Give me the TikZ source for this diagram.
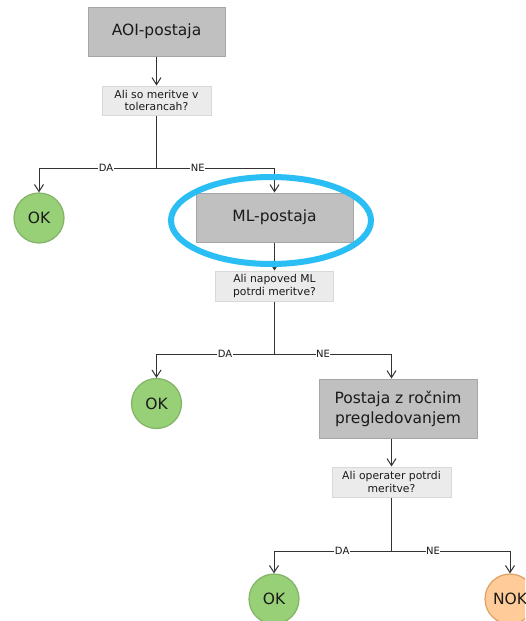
\documentclass[tikz,border=0pt]{standalone}
\usepackage{fontspec}
\setmainfont{DejaVu Sans}
\usetikzlibrary{arrows.meta,calc}
\definecolor{boxfill}{HTML}{C0C0C0}
\definecolor{boxline}{HTML}{A6A6A6}
\definecolor{qfill}{HTML}{EBEBEB}
\definecolor{qline}{HTML}{D9D9D9}
\definecolor{okfill}{HTML}{97D077}
\definecolor{okline}{HTML}{82B366}
\definecolor{nokfill}{HTML}{FFCC99}
\definecolor{nokline}{HTML}{E0A060}
\definecolor{hilite}{HTML}{2ABEF5}
\definecolor{linec}{HTML}{333333}
\definecolor{txt}{HTML}{1A1A1A}
\tikzset{
  stationbox/.style={draw=boxline, fill=boxfill, line width=1pt, inner sep=0pt, align=center, text=txt, font=\fontsize{15.5}{20}\selectfont},
  qbox/.style={draw=qline, fill=qfill, line width=1pt, inner sep=0pt, align=center, text=txt, font=\fontsize{10.8}{12.7}\selectfont},
  okc/.style={circle, draw=okline, fill=okfill, line width=1.2pt, minimum size=50pt, inner sep=0pt, text=txt, font=\fontsize{15.5}{18}\selectfont},
  nokc/.style={circle, draw=nokline, fill=nokfill, line width=1.2pt, minimum size=50pt, inner sep=0pt, text=txt, font=\fontsize{15.5}{18}\selectfont},
  conn/.style={draw=linec, line width=1pt},
  arr/.style={conn, -{Straight Barb[length=7pt,width=9pt]}},
  lbl/.style={fill=white, inner sep=0.5pt, text=txt, font=\fontsize{10}{12}\selectfont}
}
\begin{document}
\begin{tikzpicture}[x=1pt,y=-1pt]
\clip (0,0) rectangle (525,621);
\fill[white] (0,0) rectangle (525,621);

\node[stationbox, minimum width=137pt, minimum height=49pt] (aoi) at (156.5,31.5) {AOI-postaja};
\node[qbox, minimum width=109pt, minimum height=29pt] (q1) at (156.5,100.5) {Ali so meritve v\\tolerancah?};
\node[okc] (ok1) at (39,218) {OK};
\node[stationbox, minimum width=157pt, minimum height=49pt] (ml) at (274.5,217.5) {ML-postaja};
\node[qbox, minimum width=118pt, minimum height=30pt] (q2) at (274.5,286) {Ali napoved ML\\potrdi meritve?};
\node[okc] (ok2) at (156.5,403.5) {OK};
\node[stationbox, minimum width=158pt, minimum height=59pt] (man) at (398,408.5) {Postaja z ročnim\\pregledovanjem};
\node[qbox, minimum width=119pt, minimum height=30pt] (q3) at (391.5,482) {Ali operater potrdi\\meritve?};
\node[okc] (ok3) at (274,599) {OK};
\node[nokc] (nok) at (510,599) {NOK};

\coordinate (b1) at (156.5,168);
\coordinate (b2) at (274.5,354);
\coordinate (b3) at (391.5,551);

\draw[arr] (aoi.south) -- (q1.north);
\draw[conn] (q1.south) -- (b1);
\draw[arr] (b1) -- node[lbl,pos=0.43]{DA} (b1 -| ok1) -- (ok1.north);
\draw[arr] (b1) -- node[lbl,pos=0.35]{NE} (b1 -| ml) -- (ml.north);

\draw[arr] (ml.south) -- (q2.north);
\draw[conn] (q2.south) -- (b2);
\draw[arr] (b2) -- node[lbl,pos=0.42]{DA} (b2 -| ok2) -- (ok2.north);
\draw[arr] (b2) -- node[lbl,pos=0.415]{NE} (b2 -| q3) -- (man.north -| q3);

\draw[arr] (man.south -| q3) -- (q3.north);
\draw[conn] (q3.south) -- (b3);
\draw[arr] (b3) -- node[lbl,pos=0.42]{DA} (b3 -| ok3) -- (ok3.north);
\draw[arr] (b3) -- node[lbl,pos=0.35]{NE} (b3 -| nok) -- (nok.north);

\draw[hilite, line width=6pt] (ml.center) ++(-3.5,3) ellipse [x radius=100, y radius=43.5];
\end{tikzpicture}
\end{document}
